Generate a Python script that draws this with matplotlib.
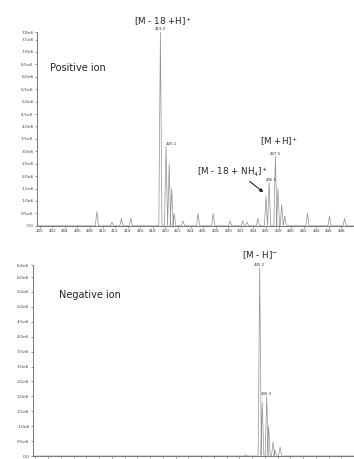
import numpy as np
import matplotlib
matplotlib.use('Agg')
import matplotlib.pyplot as plt

# peak lists (m/z, intensity in units of 1e6)
pos_mz = [409.1, 411.5, 413.0, 414.5, 419.2, 420.1, 420.6, 421.0, 421.4, 422.8,
          425.2, 427.6, 430.3, 432.3, 433.0, 434.7, 436.0, 436.5, 437.5, 437.9,
          438.5, 439.0, 442.6, 446.1, 448.5]
pos_int = [0.58, 0.15, 0.30, 0.30, 7.80, 3.20, 2.50, 1.50, 0.50, 0.20,
           0.50, 0.50, 0.20, 0.20, 0.15, 0.30, 1.20, 1.76, 2.80, 1.50,
           0.85, 0.40, 0.50, 0.40, 0.30]
neg_mz = [433.0, 435.2, 435.6, 436.3, 436.6, 437.3, 437.6, 438.4]
neg_int = [0.05, 6.30, 1.80, 2.00, 1.00, 0.47, 0.20, 0.30]

pos_yticks = [0.0, 0.5, 1.0, 1.5, 2.0, 2.5, 3.0, 3.5, 4.0, 4.5, 5.0, 5.5, 6.0, 6.5, 7.0, 7.5, 7.8]
neg_yticks = [0.0, 0.5, 1.0, 1.5, 2.0, 2.5, 3.0, 3.5, 4.0, 4.5, 5.0, 5.5, 6.0, 6.4]
xticks = list(range(400, 450, 2))

grey = '#909090'


def profile(mz, inten, hw=0.25):
    # turn centroid list into a simple triangle profile
    xs, ys = [399.0], [0.0]
    for m, i in sorted(zip(mz, inten)):
        xs += [m - hw, m, m + hw]
        ys += [0.0, i * 1e6, 0.0]
    xs.append(451.0)
    ys.append(0.0)
    return np.array(xs), np.array(ys)


def style_axes(ax, yticks, ytop):
    for s in ['top', 'right']:
        ax.spines[s].set_visible(False)
    for s in ['left', 'bottom']:
        ax.spines[s].set_color('#777777')
        ax.spines[s].set_linewidth(0.7)
    ax.set_xlim(399.6, 450.0)
    ax.set_ylim(0, ytop)
    ax.set_yticks([t * 1e6 for t in yticks])
    ax.set_yticklabels(['0.0' if t == 0 else f'{t:.1f}e6' for t in yticks])
    ax.tick_params(axis='y', labelsize=3.2, length=1.5, width=0.4, pad=1, colors='#444444')
    ax.tick_params(axis='x', labelsize=3.0, length=1.5, width=0.4, pad=1, colors='#444444')
    ax.set_xticks(xticks)
    ax.set_xticks(np.arange(400, 450, 0.5), minor=True)
    ax.tick_params(axis='x', which='minor', length=1.0, width=0.3, colors='#999999')


fig = plt.figure(figsize=(3.54, 4.59), dpi=100)

# positive ion
ax1 = fig.add_axes([0.105, 0.508, 0.895, 0.422])
x, y = profile(pos_mz, pos_int)
ax1.plot(x, y, color=grey, lw=0.5)
style_axes(ax1, pos_yticks, 7.8e6)
ax1.set_xticklabels([str(t) for t in xticks])
ax1.text(0.04, 0.80, 'Positive ion', transform=ax1.transAxes, fontsize=7, color='#222222')
ax1.text(419.2, 7.85e6, '419.2', fontsize=2.8, ha='center', va='bottom', color='#333333')
ax1.text(420.1, 3.2e6, '420.1', fontsize=2.8, ha='left', va='bottom', color='#333333')
ax1.text(436.8, 1.78e6, '436.5', fontsize=2.8, ha='center', va='bottom', color='#333333')
ax1.text(437.5, 2.82e6, '437.5', fontsize=2.8, ha='center', va='bottom', color='#333333')
ax1.text(419.6, 7.95e6, '[M - 18 +H]$^{+}$', fontsize=6.3, ha='center', va='bottom',
         color='#222222', clip_on=False)
ax1.text(438.0, 3.15e6, '[M +H]$^{+}$', fontsize=6.3, ha='center', va='bottom', color='#222222')
ax1.annotate('[M - 18 + NH$_{4}$]$^{+}$', xy=(435.6, 1.35e6), xytext=(430.6, 1.9e6),
             fontsize=6.3, ha='center', va='bottom', color='#222222',
             arrowprops=dict(arrowstyle='-|>', color='#222222', lw=0.8,
                             mutation_scale=5, shrinkA=0, shrinkB=0,
                             relpos=(0.7, 0.0)))

# negative ion
ax2 = fig.add_axes([0.093, 0.0065, 0.907, 0.416])
x, y = profile(neg_mz, neg_int)
ax2.plot(x, y, color=grey, lw=0.5)
style_axes(ax2, neg_yticks, 6.4e6)
ax2.set_xticklabels([])
ax2.text(0.08, 0.83, 'Negative ion', transform=ax2.transAxes, fontsize=7, color='#222222')
ax2.text(435.2, 6.32e6, '435.2', fontsize=2.8, ha='center', va='bottom', color='#333333')
ax2.text(436.3, 2.02e6, '436.3', fontsize=2.8, ha='center', va='bottom', color='#333333')
ax2.text(435.3, 6.55e6, '[M - H]$^{-}$', fontsize=6.3, ha='center', va='bottom',
         color='#222222', clip_on=False)

fig.savefig('out.png', dpi=100)
